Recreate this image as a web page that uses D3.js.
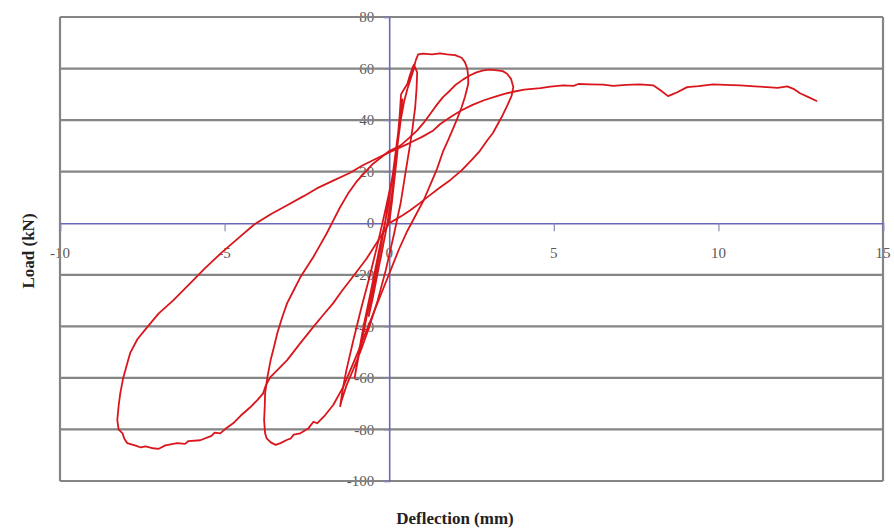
<!DOCTYPE html>
<html>
<head>
<meta charset="utf-8">
<script src="https://cdn.jsdelivr.net/npm/d3@7"></script>
<style>
  body { margin: 0; background: #fff; }
  svg { display: block; }
</style>
</head>
<body>
<div id="chart"></div>
<script>
// [deflection (mm), load (kN)] pairs, in loading order
const initialCycles = [
  [0,0],[0.08,8],[0.15,16],[0.22,24],[0.26,29],[0.18,21],[0.05,8],[-0.1,-3],[-0.25,-13],[-0.4,-22],
  [-0.55,-31],[-0.62,-36],[-0.5,-29],[-0.3,-16],[-0.1,-3],[0.08,10],[0.2,24],[0.28,34],[0.35,44],[0.4,48],
  [0.3,38],[0.12,20],[-0.05,6],[-0.25,-9],[-0.45,-22],[-0.65,-34],[-0.82,-45],[-0.95,-53],[-1.05,-60],
  [-0.95,-52],[-0.78,-40],[-0.55,-26],[-0.3,-10],[-0.05,5],[0.12,20],[0.25,32],[0.32,42],[0.36,50],
  [0.45,52],[0.55,54],[0.62,57],[0.7,60],[0.75,61.5],[0.85,58.5],[0.83,52],[0.79,45],[0.7,36],[0.64,31],
  [0.5,20],[0.35,8],[0.15,-4],[-0.1,-18],[-0.35,-30],[-0.6,-40],[-0.85,-49],[-1.1,-57],[-1.3,-63],
  [-1.45,-69],[-1.49,-71],[-1.42,-65],[-1.3,-57],[-1.1,-46],[-0.85,-33],[-0.6,-21],[-0.35,-8],[-0.1,6],
  [0.1,18],[0.25,30],[0.35,40],[0.45,47],[0.55,52],[0.65,56],[0.75,60],[0.8,63]
];

const firstLoop = [
  [0.8,63],[0.88,65.5],[1.03,65.8],[1.3,65.5],[1.55,65.9],[1.76,65.5],[2.0,65.2],[2.2,64.2],[2.3,62.5],
  [2.37,60],[2.4,57],[2.4,54],[2.3,49],[2.2,45],[2.08,41],[1.95,37],[1.8,32.5],[1.64,28],[1.45,21],
  [1.25,15],[1.05,9],[0.8,3],[0.55,-3],[0.3,-10],[0.05,-18],[-0.2,-26],[-0.45,-34],[-0.7,-42],
  [-0.95,-50],[-1.18,-57],[-1.4,-63.6],[-1.7,-70.5],[-1.95,-74.5],[-2.19,-77.6],[-2.3,-77],[-2.45,-79.5],
  [-2.7,-81.5],[-2.9,-82],[-3.0,-83.6],[-3.1,-84],[-3.3,-85.3],[-3.45,-86],[-3.6,-85],[-3.72,-83.5],[-3.77,-81.5],
  [-3.8,-76.4],[-3.78,-71],[-3.77,-66],[-3.7,-59.7],[-3.6,-53],[-3.5,-48],[-3.4,-42.7],[-3.25,-36.5],
  [-3.1,-31],[-2.9,-26],[-2.7,-21],[-2.5,-17],[-2.3,-13],[-2.1,-8.5],[-1.9,-4],[-1.7,1],[-1.5,6],
  [-1.25,11.5],[-1.0,16],[-0.75,19.5],[-0.5,23],[-0.25,25.5],[0,28]
];

const secondLoop = [
  [0,28],[0.33,30],[0.6,33],[0.85,36],[1.05,39],[1.25,42.5],[1.45,46],[1.64,49],[1.85,51.5],[2.0,53.5],
  [2.25,55.8],[2.46,57.4],[2.65,58.5],[2.86,59.3],[3.05,59.6],[3.28,59.3],[3.45,59],[3.58,58],[3.7,56],
  [3.77,52.8],[3.72,49.5],[3.6,46],[3.45,42],[3.3,38.5],[3.15,35],[2.97,32],[2.75,28],[2.5,24.5],
  [2.2,20.5],[1.85,16.7],[1.5,13.5],[1.2,10.5],[0.9,7.5],[0.64,5],[0.4,3],[0.2,1.5],[0,0]
];

const finalLoop = [
  [0,0],[-0.3,-6],[-0.7,-14],[-1.18,-22],[-1.45,-26.5],[-1.7,-31],[-2.0,-35.5],[-2.31,-40.3],
  [-2.7,-46.5],[-3.1,-53.1],[-3.4,-57],[-3.61,-59.7],[-3.75,-63],[-3.83,-66],[-4.0,-68.5],[-4.22,-71.4],
  [-4.5,-74.5],[-4.74,-77.6],[-4.95,-79.5],[-5.13,-81.5],[-5.3,-81.2],[-5.4,-82.5],[-5.74,-84.2],[-6.1,-84.5],
  [-6.2,-85.6],[-6.44,-85.3],[-6.8,-86.2],[-7.0,-87.5],[-7.17,-87.3],[-7.4,-86.6],[-7.55,-87],[-7.7,-86.3],[-7.96,-85.3],
  [-8.05,-83.5],[-8.1,-81.5],[-8.22,-80],[-8.26,-76.4],[-8.22,-71],[-8.17,-66],[-8.08,-60],[-7.95,-54],
  [-7.87,-50.4],[-7.65,-45],[-7.35,-40.3],[-7.0,-35],[-6.56,-29.9],[-6.1,-24],[-5.6,-17.5],[-5.1,-11.5],
  [-4.6,-6],[-4.1,-0.5],[-3.6,3.5],[-3.1,7],[-2.6,10.5],[-2.2,13.5],[-1.7,16.5],[-1.2,19.5],[-0.8,22.5],
  [-0.4,25],[0,27.5],[0.6,31],[1.0,33.5],[1.34,36],[1.55,38.5],[1.9,41.5],[2.2,43.8],[2.55,46],
  [2.9,47.8],[3.2,49],[3.5,50.2],[3.77,51],[4.1,51.8],[4.59,52.4],[4.9,53],[5.29,53.5],[5.6,53.3],
  [5.75,54],[6.1,53.9],[6.5,53.8],[6.8,53.3],[7.2,53.7],[7.62,53.9],[8.02,53.5],[8.25,51.5],[8.47,49.3],
  [8.6,50],[8.75,50.8],[9.05,52.8],[9.4,53.2],[9.84,53.9],[10.2,53.7],[10.66,53.5],[11.1,53.1],
  [11.48,52.8],[11.8,52.5],[12.09,53.1],[12.3,52],[12.48,50.4],[12.75,48.8],[13.0,47.3]
];

const xTicks = [-10, -5, 0, 5, 10, 15];
const yTicks = [-100, -80, -60, -40, -20, 0, 20, 40, 60, 80];

const width = 894;
const height = 532;
const marginTop = 17;
const marginRight = 11;
const marginBottom = 51;
const marginLeft = 60;

const x = d3.scaleLinear()
    .domain([-10, 15])
    .range([marginLeft, width - marginRight]);

const y = d3.scaleLinear()
    .domain([-100, 80])
    .range([height - marginBottom, marginTop]);

const svg = d3.select("#chart")
    .append("svg")
    .attr("width", width)
    .attr("height", height);

const labelFont = "'Liberation Serif', 'Times New Roman', serif";

// tick labels sit at the zero lines, under the grid
svg.append("g")
    .selectAll("text")
    .data(yTicks)
    .join("text")
    .attr("x", x(0) - 15)
    .attr("y", d => y(d))
    .attr("dy", "0.35em")
    .attr("text-anchor", "end")
    .attr("font-family", labelFont)
    .attr("font-size", 15)
    .attr("fill", "#5a5a5a")
    .text(d => d);

svg.append("g")
    .selectAll("text")
    .data(xTicks)
    .join("text")
    .attr("x", d => x(d))
    .attr("y", y(0) + 35)
    .attr("text-anchor", "middle")
    .attr("font-family", labelFont)
    .attr("font-size", 15)
    .attr("fill", "#5a5a5a")
    .text(d => d);

// horizontal grid
svg.append("g")
    .selectAll("line")
    .data(yTicks.filter(d => d !== 0))
    .join("line")
    .attr("x1", x(-10))
    .attr("x2", x(15))
    .attr("y1", d => y(d))
    .attr("y2", d => y(d))
    .attr("stroke", "#858585")
    .attr("stroke-width", 2.2);

// plot frame sides
svg.append("g")
    .selectAll("line")
    .data([-10, 15])
    .join("line")
    .attr("x1", d => x(d))
    .attr("x2", d => x(d))
    .attr("y1", y(80))
    .attr("y2", y(-100))
    .attr("stroke", "#858585")
    .attr("stroke-width", 2.2);

// zero axes in blue
svg.append("g")
    .attr("transform", `translate(0,${y(0)})`)
    .call(d3.axisBottom(x).tickValues(xTicks).tickSize(8).tickFormat(""))
    .call(g => g.select(".domain").attr("stroke", "#6868b8").attr("stroke-width", 1.6))
    .call(g => g.selectAll(".tick line").attr("stroke", "#8a8ab0").attr("stroke-width", 1.2));

svg.append("g")
    .attr("transform", `translate(${x(0)},0)`)
    .call(d3.axisLeft(y).tickValues(yTicks).tickSize(5).tickFormat(""))
    .call(g => g.select(".domain").attr("stroke", "#6868b8").attr("stroke-width", 1.6))
    .call(g => g.selectAll(".tick line").attr("stroke", "#8a8ab0").attr("stroke-width", 1.2));

const line = d3.line()
    .x(d => x(d[0]))
    .y(d => y(d[1]));

const loops = [initialCycles, firstLoop, secondLoop, finalLoop];

svg.append("g")
    .selectAll("path")
    .data(loops)
    .join("path")
    .attr("fill", "none")
    .attr("stroke", "#d9161c")
    .attr("stroke-width", 1.8)
    .attr("stroke-linejoin", "round")
    .attr("d", line);

// axis titles
svg.append("text")
    .attr("transform", `translate(28,${(y(80) + y(-100)) / 2 + 2}) rotate(-90)`)
    .attr("text-anchor", "middle")
    .attr("dy", "0.35em")
    .attr("font-family", labelFont)
    .attr("font-weight", "bold")
    .attr("font-size", 17)
    .attr("fill", "#222")
    .text("Load (kN)");

svg.append("text")
    .attr("x", 455)
    .attr("y", 524)
    .attr("text-anchor", "middle")
    .attr("font-family", labelFont)
    .attr("font-weight", "bold")
    .attr("font-size", 17)
    .attr("fill", "#222")
    .text("Deflection (mm)");
</script>
</body>
</html>
